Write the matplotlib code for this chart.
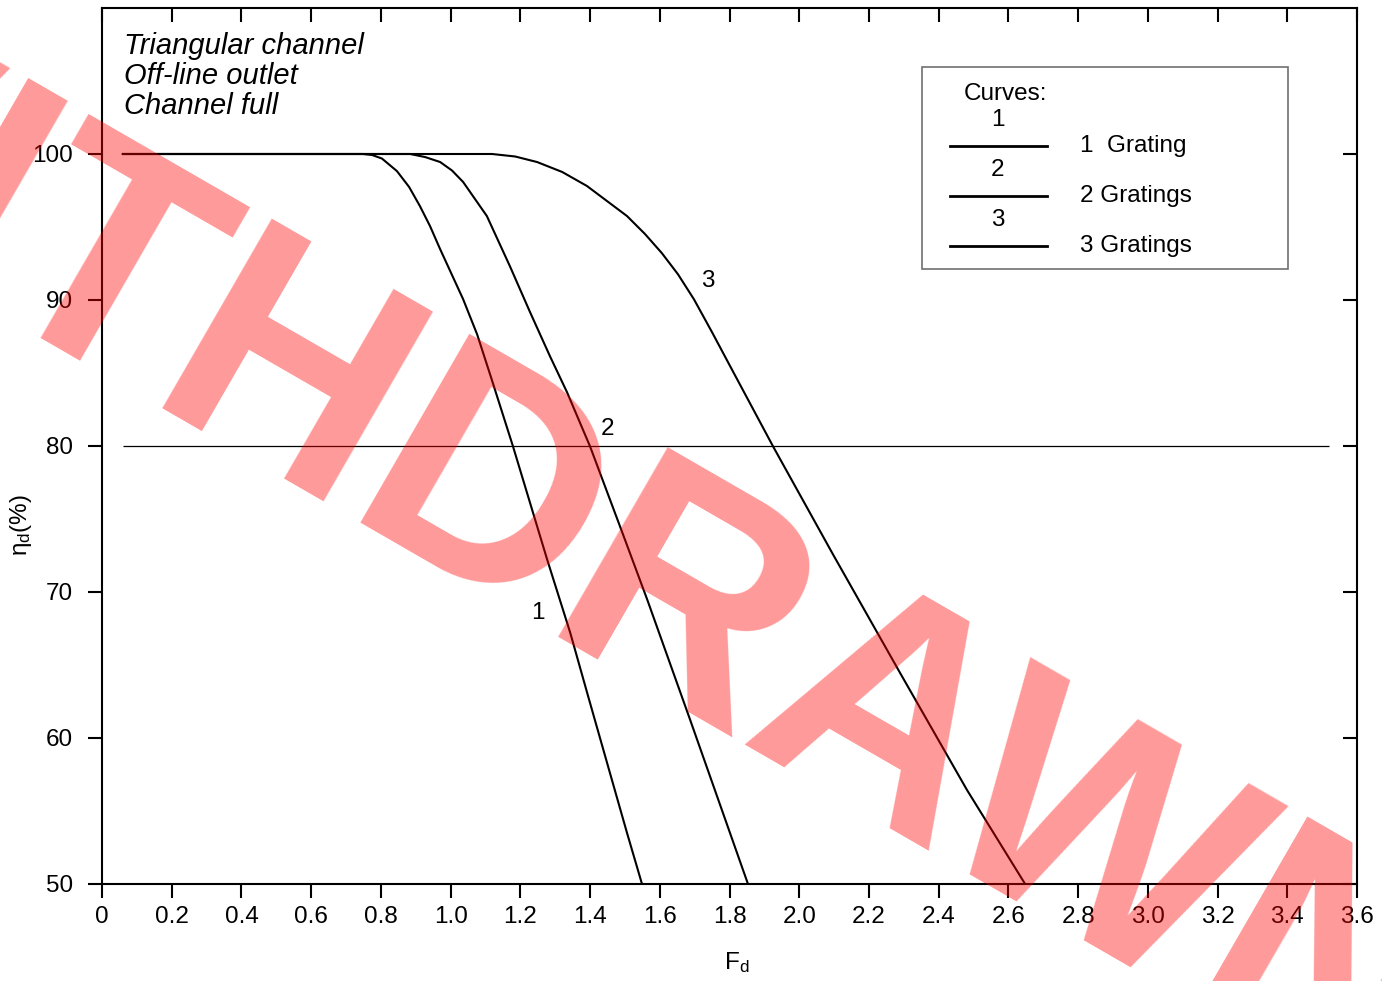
import matplotlib.pyplot as plt
from matplotlib.patches import Rectangle
from matplotlib.lines import Line2D

plt.rcParams['font.family'] = ['Liberation Sans', 'DejaVu Sans']
plt.rcParams['mathtext.default'] = 'regular'

# Curve data (Fd, eta_d %)
fd_1 = [0.06, 0.749, 0.775, 0.803, 0.846, 0.881, 0.912, 0.941, 0.970, 1.036,
        1.076, 1.116, 1.179, 1.277, 1.343, 1.394, 1.457, 1.506, 1.549]
eta_1 = [100, 100, 99.93, 99.69, 98.83, 97.74, 96.43, 95.06, 93.48, 90.05,
         87.65, 84.7, 79.97, 72.22, 67.22, 62.9, 57.61, 53.50, 50.0]

fd_2 = [0.06, 0.884, 0.927, 0.970, 1.004, 1.036, 1.104, 1.170, 1.228, 1.285,
        1.334, 1.400, 1.486, 1.564, 1.687, 1.853]
eta_2 = [100, 100, 99.79, 99.45, 98.87, 98.08, 95.75, 92.32, 89.16, 86.15,
         83.68, 79.97, 74.49, 69.48, 61.25, 50.0]

fd_3 = [0.06, 1.119, 1.185, 1.248, 1.320, 1.391, 1.506, 1.558, 1.606, 1.652,
        1.698, 1.750, 1.802, 1.925, 2.097, 2.289, 2.481, 2.648]
eta_3 = [100, 100, 99.83, 99.45, 98.77, 97.81, 95.75, 94.51, 93.21, 91.77,
         90.05, 87.79, 85.46, 79.97, 72.57, 64.47, 56.45, 50.0]

curve_names = ["1", "2", "3"]
legend_labels = ["1  Grating", "2 Gratings", "3 Gratings"]
# curve number labels positions (Fd, eta)
label_fd = [1.251, 1.449, 1.737]
label_eta = [68.18, 80.73, 90.88]

ref_level = 80
ref_start, ref_end = 0.06, 3.52

x_ticks = [round(0.2 * i, 1) for i in range(19)]
x_ticklabels = ["0"] + [f"{v:.1f}" for v in x_ticks[1:]]
y_ticks = [50, 60, 70, 80, 90, 100]

FS = 17.5
W, H = 1382, 981
fig = plt.figure(figsize=(W / 100, H / 100), dpi=100)
ax = fig.add_axes([102 / W, 1 - 884 / H, (1357 - 102) / W, (884 - 8) / H])

for fd, eta in [(fd_1, eta_1), (fd_2, eta_2), (fd_3, eta_3)]:
    ax.plot(fd, eta, color='black', lw=1.5, solid_joinstyle='round')

ax.hlines(ref_level, ref_start, ref_end, color='black', lw=0.9)

for name, x, y in zip(curve_names, label_fd, label_eta):
    ax.text(x, y, name, ha='center', va='baseline', fontsize=FS)

ax.set_xlim(0, 3.6)
ax.set_ylim(50, 110)
ax.set_xticks(x_ticks)
ax.set_xticklabels(x_ticklabels)
ax.set_yticks(y_ticks)

for s in ax.spines.values():
    s.set_linewidth(1.5)
ax.tick_params(axis='both', which='major', direction='out', length=10,
               width=1.5, labelsize=FS)
ax.tick_params(axis='x', pad=6)
ax.tick_params(axis='y', pad=11)
# inward ticks on top and right
ax.tick_params(top=True, right=True)
for t in ax.xaxis.get_major_ticks():
    t.tick2line.set_marker(3)
for t in ax.yaxis.get_major_ticks():
    t.tick2line.set_marker(0)

ax.set_xlabel('F$_d$', fontsize=FS, va='top')
ax.xaxis.set_label_coords(0.506, -0.075)
ax.set_ylabel('η$_d$(%)', fontsize=FS)
ax.yaxis.set_label_coords(-0.054, 0.41)

# header text
for i, line in enumerate(["Triangular channel", "Off-line outlet", "Channel full"]):
    fig.text(124 / W, 1 - (53.5 + 30 * i) / H, line, fontsize=21, style='italic',
             ha='left', va='baseline')

# custom legend box
fig.patches.append(Rectangle((922 / W, 1 - 269 / H), (1288 - 922) / W, (269 - 67) / H,
                             transform=fig.transFigure, fill=False,
                             edgecolor='#707070', lw=1.2, zorder=2))
fig.text(964 / W, 1 - 100 / H, "Curves:", fontsize=FS, ha='left', va='baseline')
for i, (name, lab) in enumerate(zip(curve_names, legend_labels)):
    yl = 145.7 + 50 * i
    fig.lines.append(Line2D([950 / W, 1047 / W], [1 - yl / H, 1 - yl / H],
                            transform=fig.transFigure, color='black', lw=2))
    fig.text(998 / W, 1 - (yl - 19.5) / H, name, fontsize=FS, ha='center', va='baseline')
    fig.text(1080 / W, 1 - (yl + 6) / H, lab, fontsize=FS, ha='left', va='baseline')

# watermark
fig.text(510 / W, 1 - 609 / H, "WITHDRAWN", fontsize=228, fontweight='bold',
         color='red', alpha=0.4, rotation=-30, rotation_mode='anchor',
         ha='center', va='baseline', zorder=10)

plt.savefig("out.png", dpi=100)
